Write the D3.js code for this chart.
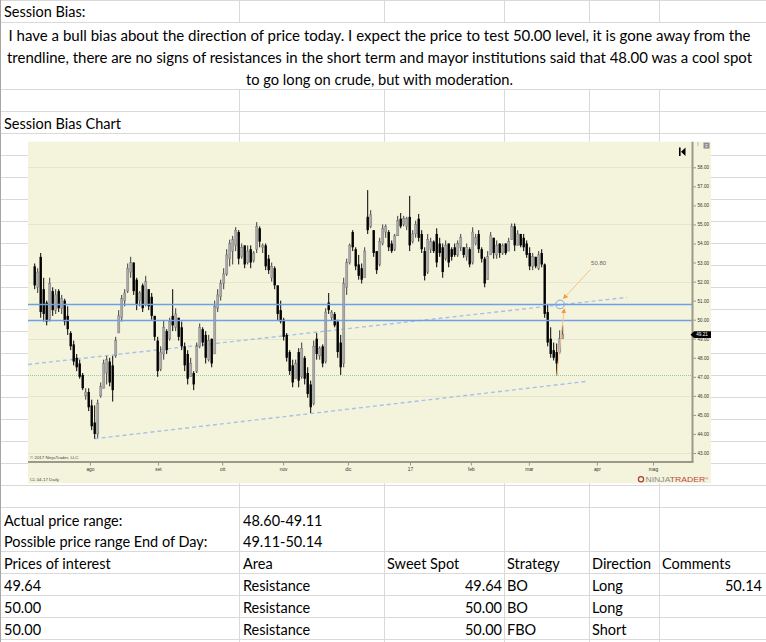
<!DOCTYPE html>
<html><head><meta charset="utf-8">
<script src="https://cdn.jsdelivr.net/npm/d3@7/dist/d3.min.js"></script>
<style>body{margin:0;background:#fff;}svg{display:block;}</style>
</head><body>
<svg id="c" width="766" height="642"></svg>
<script>
// ---------- DATA ----------
const opens  = [52.8,51.7,53.3,51.6,50.9,50.0,51.5,50.5,51.5,50.6,51.0,50.2,49.3,48.7,48.0,47.7,47.1,46.0,46.2,45.5,44.6,44.0,46.0,46.4,47.2,47.8,47.6,48.1,49.3,50.1,51.0,51.5,52.5,53.0,52.1,51.0,51.8,50.8,51.6,51.2,50.2,48.9,47.4,48.2,49.4,49.0,50.2,49.6,50.1,49.6,48.6,48.2,47.0,47.2,47.3,48.6,49.5,49.2,47.9,49.0,48.2,50.6,51.2,51.9,52.4,53.2,53.6,53.9,54.6,53.3,53.9,53.0,53.7,53.1,53.7,54.8,53.8,53.9,53.2,52.2,52.7,51.8,50.5,50.0,49.2,48.3,47.6,46.9,48.3,47.0,48.0,47.2,46.6,45.6,49.0,48.1,48.6,47.8,50.9,50.1,50.3,49.9,48.8,47.7,51.7,53.0,54.6,53.7,52.9,52.7,52.2,55.4,54.9,54.7,53.6,52.9,54.0,54.6,54.6,54.0,53.7,54.4,55.3,55.0,54.9,55.4,54.1,54.5,55.3,54.5,53.6,52.5,53.7,54.1,54.5,54.0,53.8,53.2,54.0,53.7,53.8,53.4,53.8,53.8,53.3,53.7,53.0,54.0,54.5,53.7,53.2,52.1,53.4,54.3,53.4,54.0,53.5,54.0,53.6,54.2,54.9,53.9,54.5,54.3,54.0,53.5,52.8,53.3,52.7,53.5,52.9,50.4,49.0,48.4,48.3,48.3,49.0];
const highs  = [52.95,52.7,53.5,52.2,51.0,52.2,51.7,51.6,51.6,51.3,51.1,50.7,49.4,48.9,48.2,47.9,47.2,46.4,46.4,45.8,45.5,45.8,46.7,47.9,48.1,48.0,48.1,49.1,50.5,51.3,51.6,52.95,53.3,53.0,52.2,51.5,51.9,52.3,51.6,51.4,50.2,49.1,48.6,49.96,49.5,50.1,51.6,50.6,50.1,49.9,48.8,48.4,48.0,47.3,48.8,49.8,49.6,49.4,49.2,49.0,51.0,51.6,52.1,52.7,53.7,54.2,54.4,54.86,54.7,54.0,53.9,53.9,53.9,53.6,55.12,54.9,54.0,54.0,53.4,53.0,52.8,51.8,51.0,50.1,49.3,48.4,47.9,47.9,48.5,48.8,48.1,47.5,46.8,48.9,49.3,48.6,48.7,50.6,51.4,50.5,50.4,50.0,49.2,52.2,53.2,54.0,54.7,53.8,53.4,52.95,53.8,56.8,55.75,54.7,53.6,54.3,55.0,55.0,54.7,54.16,54.5,55.45,55.6,55.45,55.4,56.5,54.7,55.2,55.55,54.7,53.8,54.5,54.3,54.16,54.8,54.3,54.0,54.16,54.0,53.8,54.0,54.16,54.5,53.8,54.0,53.8,54.85,54.5,54.7,53.8,53.3,53.6,54.6,54.3,54.16,54.0,54.0,54.0,54.3,55.05,55.05,54.7,54.5,54.5,54.16,53.8,53.5,53.3,53.6,53.7,52.95,50.8,49.6,48.8,48.75,49.44,49.7];
const lows   = [51.6,51.4,50.1,49.9,49.7,49.9,50.2,50.3,50.4,50.3,49.7,49.2,48.4,47.6,47.3,46.9,46.3,45.8,45.2,44.2,43.75,43.8,45.9,46.4,46.6,46.5,45.7,48.0,49.3,49.9,50.7,51.4,52.2,51.3,50.5,50.7,50.4,50.7,50.5,50.0,48.9,47.0,47.3,47.9,48.2,48.9,49.4,49.4,48.9,48.4,47.3,46.6,47.0,46.3,47.2,48.5,48.6,47.7,47.8,47.5,48.2,50.4,51.0,51.6,52.3,52.8,52.9,53.6,52.9,53.2,52.7,52.9,52.7,53.0,53.5,53.8,53.5,52.6,52.4,52.0,51.6,49.95,49.8,48.9,47.8,47.1,46.45,46.9,46.45,46.9,46.6,45.9,45.1,45.5,47.9,47.9,47.5,47.7,50.3,49.95,49.6,48.0,47.1,47.5,51.3,52.9,53.6,52.6,52.1,51.9,52.2,54.5,54.8,53.3,52.4,52.8,53.9,54.3,53.6,53.5,53.6,54.4,54.8,54.9,54.7,53.6,54.0,54.3,54.1,53.5,52.06,52.4,53.5,53.5,52.75,53.3,52.2,53.1,52.75,53.1,53.3,53.3,53.6,53.25,53.1,52.75,52.9,53.9,53.5,53.0,51.7,52.1,53.4,53.2,53.2,53.25,53.4,53.4,53.6,54.2,53.6,53.9,53.8,53.6,53.25,52.6,52.6,52.7,52.6,52.75,50.1,48.6,48.0,47.86,47.07,48.2,49.0];
const closes = [51.8,52.5,50.4,50.3,49.9,51.9,50.5,51.3,50.6,51.1,49.9,49.5,48.6,47.8,47.5,47.0,46.4,46.2,45.4,44.4,44.0,45.6,46.5,47.7,47.9,46.7,46.3,48.9,50.2,51.1,51.4,52.7,53.0,51.5,50.8,51.4,50.6,52.0,50.7,50.2,49.1,47.3,48.3,49.6,48.4,49.9,49.7,50.3,49.1,48.6,47.6,46.9,47.7,46.6,48.6,49.6,48.8,48.0,48.9,47.7,50.7,51.3,51.9,52.4,53.4,54.0,54.2,54.7,53.2,53.8,52.9,53.6,53.0,53.5,54.9,54.1,53.9,52.8,52.6,52.8,51.8,50.3,49.9,49.1,48.0,47.3,46.7,47.7,46.8,48.5,46.9,46.1,45.4,48.6,48.2,48.5,47.7,50.4,50.5,50.4,49.7,48.3,47.5,51.9,53.0,53.9,53.8,52.8,52.3,52.1,53.6,54.7,55.5,53.5,52.6,54.1,54.8,54.9,53.8,53.6,54.4,55.2,54.9,55.3,55.3,53.9,54.5,55.0,54.3,53.7,52.3,54.2,54.1,53.6,53.0,53.5,52.5,53.9,53.0,53.3,53.4,54.0,54.3,53.4,53.8,52.9,54.6,54.3,53.7,53.2,51.9,53.3,54.4,53.5,53.9,53.5,53.9,53.5,54.1,54.9,53.9,54.5,53.9,53.8,53.4,52.8,53.3,52.8,53.4,52.9,50.3,48.8,48.2,48.0,47.7,49.0,49.21];

const priceTicks  = [43,44,45,46,47,48,49,50,51,52,53,54,55,56,57,58];
const gridPrices  = [43,46,49,52,55,58];
const monthLabels = ["ago","set","ott","nov","dic","17","feb","mar","apr","mag"];
const monthBars   = [18.4,41.1,62.5,82.8,104.4,125.1,145.4,164.7,187.4,206.1];
const levelLines  = [50.80, 50.00];
const supportLevel = 47.07;
const lastPrice = 49.21;
const trendUpper = [[-2.2, 47.65],[197.4, 51.17]];
const trendLower = [[20, 43.75],[184, 46.76]];
const arrowUp    = [[174, 47.07],[176.5, 50.58]];
const arrowLabel = [[185.3, 52.64],[176.2, 51.1]];
const circlePt   = [175.1, 50.80];
const labelText  = "50.80";

const paragraph = [
  "I have a bull bias about the direction of price today. I expect the price to test 50.00 level, it is gone away from the",
  "trendline, there are no signs of resistances in the short term and mayor institutions said that 48.00 was a cool spot",
  "to go long on crude, but with moderation."
];
const tableRows = [
  ["Actual price range:", "48.60-49.11", "", "", "", ""],
  ["Possible price range End of Day:", "49.11-50.14", "", "", "", ""],
  ["Prices of interest", "Area", "Sweet Spot", "Strategy", "Direction", "Comments"],
  ["49.64", "Resistance", "49.64", "BO", "Long", "50.14"],
  ["50.00", "Resistance", "50.00", "BO", "Long", ""],
  ["50.00", "Resistance", "50.00", "FBO", "Short", ""]
];

// ---------- DRAW ----------
const svg = d3.select("#c");
const XL = "Lato, 'Open Sans', sans-serif";
const grid = "#d9d9d9";
const SMALL = "Liberation Sans, Arial, sans-serif";

// spreadsheet grid
const rowLines = [0.5,22.5,89.5,111.5,133.5,155.5,177.5,199.5,221.5,243.5,265.5,287.5,309.5,331.5,353.5,375.5,397.5,419.5,441.5,463.5,485.5,507.5,551.5,573.5,595.5,617.5,639.5];
const colLines = [239.5,384.5,504.5,589.5,659.5];
svg.append("g").selectAll("line").data(rowLines).join("line")
  .attr("x1",0).attr("x2",766).attr("y1",d=>d).attr("y2",d=>d).attr("stroke",grid);
const vg = svg.append("g");
colLines.forEach(xv=>{
  vg.append("line").attr("x1",xv).attr("x2",xv).attr("y1",0).attr("y2",22.5).attr("stroke",grid);
  vg.append("line").attr("x1",xv).attr("x2",xv).attr("y1",89.5).attr("y2",642).attr("stroke",grid);
});
svg.append("line").attr("x1",0.5).attr("x2",0.5).attr("y1",0).attr("y2",642).attr("stroke","#a6a6a6");

// sheet text
svg.append("text").attr("x",4).attr("y",17).attr("font-family",XL).attr("font-size",14.5).text("Session Bias:");
const paraW = [742, 745, 267];
paragraph.forEach((t,i)=>{
  svg.append("text").attr("x",379.5).attr("y",40.5+i*22.2).attr("text-anchor","middle")
    .attr("font-family",XL).attr("font-size",14.5)
    .attr("textLength",paraW[i]).attr("lengthAdjust","spacingAndGlyphs").text(t);
});
svg.append("text").attr("x",4).attr("y",128.5).attr("font-family",XL).attr("font-size",14.5).text("Session Bias Chart");

const colX = [4, 243, 387, 507, 592, 662];
const rightNum = {2: 502, 5: 762};
tableRows.forEach((r,ri)=>{
  const yb = 525.5 + ri*21.9;
  r.forEach((t,ci)=>{
    if(!t) return;
    const isNumRight = ri>=3 && (ci===2 || ci===5);
    svg.append("text")
      .attr("x", isNumRight ? rightNum[ci] : colX[ci]).attr("y", yb)
      .attr("text-anchor", isNumRight ? "end" : "start")
      .attr("font-family",XL).attr("font-size",14.5).text(t);
  });
});

// ---------- CHART IMAGE ----------
const CX0 = 28, CY0 = 141.7, CW = 683, CH = 341.6;
const plotR = 692.5, axisY = 462;
const chart = svg.append("g");
chart.append("rect").attr("x",CX0).attr("y",CY0).attr("width",CW).attr("height",CH).attr("fill","#f4f4dc");

const x = d3.scaleLinear().domain([0, closes.length-1]).range([34.7, 562.7]);
const y = d3.scaleLinear().domain([43, 58]).range([453, 167.3]);
const crisp = v => Math.round(v) + 0.5;

// faint grid
chart.append("g").selectAll("line").data(gridPrices).join("line")
  .attr("x1",CX0).attr("x2",plotR).attr("y1",d=>crisp(y(d))).attr("y2",d=>crisp(y(d)))
  .attr("stroke","#e6e6cc").attr("stroke-width",1);

// support dotted line
chart.append("line").attr("x1",CX0).attr("x2",plotR).attr("y1",crisp(y(supportLevel))).attr("y2",crisp(y(supportLevel)))
  .attr("stroke","#8fcf8f").attr("stroke-width",1).attr("stroke-dasharray","1,1");

// trendlines
const tl = d3.line().x(d=>x(d[0])).y(d=>y(d[1]));
[trendUpper, trendLower].forEach(t=>{
  chart.append("path").attr("d",tl(t)).attr("fill","none").attr("stroke","#a9c1ea")
    .attr("stroke-width",1.4).attr("stroke-dasharray","4,3");
});

// candles
const idx = d3.range(closes.length);
const cg = chart.append("g");
cg.selectAll("line").data(idx).join("line")
  .attr("x1",i=>x(i)).attr("x2",i=>x(i)).attr("y1",i=>y(highs[i])).attr("y2",i=>y(lows[i]))
  .attr("stroke",i=>closes[i]>=opens[i]?"#3a3a3a":"#000").attr("stroke-width",1);
cg.selectAll("rect").data(idx).join("rect")
  .attr("x",i=>x(i)-1.2).attr("width",2.4)
  .attr("y",i=>y(Math.max(opens[i],closes[i])))
  .attr("height",i=>Math.max(0.8, Math.abs(y(opens[i])-y(closes[i]))))
  .attr("fill",i=>closes[i]>=opens[i]?"#a9a9a9":"#000")
  .attr("stroke",i=>closes[i]>=opens[i]?"#666":"none").attr("stroke-width",0.3);

// level lines
chart.append("g").selectAll("line").data(levelLines).join("line")
  .attr("x1",CX0).attr("x2",plotR).attr("y1",d=>crisp(y(d))).attr("y2",d=>crisp(y(d)))
  .attr("stroke","#6f9fe6").attr("stroke-width",1.3);

// arrows
const defs = svg.append("defs");
defs.append("marker").attr("id","ah").attr("viewBox","0 0 10 10").attr("refX",9).attr("refY",5)
  .attr("markerWidth",5).attr("markerHeight",5).attr("orient","auto")
  .append("path").attr("d","M0,0L10,5L0,10Z").attr("fill","#f0a030");
[arrowUp, arrowLabel].forEach(a=>{
  chart.append("path").attr("d",tl(a)).attr("stroke","#f7c08a").attr("stroke-width",1)
    .attr("fill","none").attr("marker-end","url(#ah)");
});
chart.append("circle").attr("cx",x(circlePt[0])).attr("cy",y(circlePt[1])).attr("r",4.3)
  .attr("fill","none").attr("stroke","#7aa5e8").attr("stroke-width",1);
chart.append("text").attr("x",x(arrowLabel[0][0])+0.5).attr("y",y(arrowLabel[0][1])-4)
  .attr("font-family",SMALL).attr("font-size",6).attr("fill","#666").text(labelText);

// axes lines
chart.append("line").attr("x1",CX0).attr("x2",plotR+1).attr("y1",axisY).attr("y2",axisY)
  .attr("stroke","#9a9a8a").attr("stroke-width",2);
chart.append("line").attr("x1",plotR).attr("x2",plotR).attr("y1",CY0).attr("y2",axisY)
  .attr("stroke","#9a9a8a").attr("stroke-width",2);

// y axis
const ya = chart.append("g").attr("transform",`translate(${plotR+1},0)`)
  .call(d3.axisRight(y).tickValues(priceTicks).tickSize(2.5).tickPadding(1.5).tickFormat(d3.format(".2f")));
ya.select(".domain").remove();
ya.selectAll("line").attr("stroke","#555").attr("stroke-width",0.6);
ya.selectAll("text").attr("font-family",SMALL).attr("font-size",4.6).attr("fill","#333");

// x axis
const xa = chart.append("g").attr("transform",`translate(0,${axisY+1})`)
  .call(d3.axisBottom(x).tickValues(monthBars).tickSize(2.5).tickPadding(2.5)
    .tickFormat((d,i)=>monthLabels[i]));
xa.select(".domain").remove();
xa.selectAll("line").attr("stroke","#555").attr("stroke-width",0.6);
xa.selectAll("text").attr("font-family",SMALL).attr("font-size",4.8).attr("fill","#333");

// last price marker
const ly = y(lastPrice);
chart.append("path").attr("d",`M${plotR-2},${ly} L${plotR+1.5},${ly-3.4} H${CX0+CW} V${ly+3.4} H${plotR+1.5} Z`).attr("fill","#000");
chart.append("text").attr("x",plotR+9.5).attr("y",ly+1.7).attr("text-anchor","middle")
  .attr("font-family",SMALL).attr("font-size",4.6).attr("fill","#fff").text(lastPrice.toFixed(2));

// small texts
chart.append("text").attr("x",30).attr("y",458.5).attr("font-family",SMALL)
  .attr("font-size",4.4).attr("fill","#444").text("© 2017 NinjaTrader, LLC");
chart.append("text").attr("x",30).attr("y",481).attr("font-family",SMALL)
  .attr("font-size",4.4).attr("fill","#444").text("CL 04-17 Daily");

// logo
chart.append("circle").attr("cx",641).attr("cy",479.3).attr("r",2.6).attr("fill","none").attr("stroke","#b03a2e").attr("stroke-width",1.2);
const logo = chart.append("text").attr("x",645.5).attr("y",481.8).attr("font-family",SMALL)
  .attr("font-size",6.6).attr("textLength",63).attr("lengthAdjust","spacingAndGlyphs");
logo.append("tspan").attr("fill","#8a8a8a").text("NINJA");
logo.append("tspan").attr("fill","#c0443a").text("TRADER");
logo.append("tspan").attr("fill","#c0443a").attr("font-size",3.5).attr("dy",-2).text("®");

// top-right controls
chart.append("rect").attr("x",679).attr("y",147.5).attr("width",1.6).attr("height",8.5).attr("fill","#000");
chart.append("path").attr("d","M685.5,147.5 L681,151.75 L685.5,156 Z").attr("fill","#000");
chart.append("rect").attr("x",703.5).attr("y",142.6).attr("width",6).attr("height",6).attr("fill","#8c8c8c");
chart.append("text").attr("x",706.5).attr("y",147.6).attr("text-anchor","middle").attr("font-family",SMALL)
  .attr("font-size",4.5).attr("fill","#eee").text("F");
chart.append("line").attr("x1",698).attr("x2",698).attr("y1",142).attr("y2",146).attr("stroke","#999").attr("stroke-width",0.6);
</script>
</body></html>
